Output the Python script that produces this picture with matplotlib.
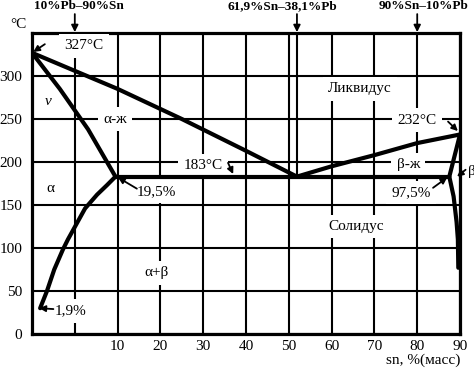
import matplotlib
matplotlib.use("Agg")
import matplotlib.pyplot as plt

plt.rcParams['font.family'] = ['Liberation Serif', 'DejaVu Serif']

# phase lines: (composition % Sn, temperature C)
liq_left_x = [0, 20, 35, 50, 61.9]
liq_left_y = [327, 285, 250, 213, 183]
liq_right_x = [61.9, 70, 80, 90, 100]
liq_right_y = [183, 195, 208, 222, 232]
sol_left_x = [0, 6.5, 13.1, 19.5]
sol_left_y = [327, 285, 238, 183]
solv_left_x = [19.5, 17.5, 15.2, 12.4, 10.4, 8.4, 7.2, 5.2, 3.5, 1.9]
solv_left_y = [183, 173, 162, 146, 128, 110, 98, 75, 50, 30]
sol_right_x = [100, 97.5]
sol_right_y = [232, 183]
solv_right_x = [97.5, 98.5, 99.2, 99.5, 99.6]
solv_right_y = [183, 160, 130, 110, 77]
eut_x = [19.5, 97.5]
eut_y = [183, 183]

xtick_pos = [10, 20, 30, 40, 50, 60, 70, 80, 90, 100]
xtick_lab = ['', '10', '20', '30', '40', '50', '60', '70', '80', '90']
ytick_pos = [0, 50, 100, 150, 200, 250, 300]

fig = plt.figure(figsize=(4.74, 3.70), dpi=100)
ax = fig.add_axes([0.0675, 0.0973, 0.903, 0.8135])
ax.set_xlim(0, 100)
ax.set_ylim(0, 350)
ax.set_xticks(xtick_pos)
ax.set_xticklabels(xtick_lab)
ax.set_yticks(ytick_pos)
ax.tick_params(length=0, labelsize=11)
ax.tick_params(axis='x', pad=4)
ax.tick_params(axis='y', pad=7)
ax.set_axisbelow(True)
ax.grid(True, color='black', lw=1.5)
for s in ax.spines.values():
    s.set_linewidth(2.3)

# eutectic composition line
ax.plot([61.9, 61.9], [183, 350], color='black', lw=1.5, zorder=1)

lw = 3
for xs, ys in [(liq_left_x, liq_left_y), (liq_right_x, liq_right_y),
               (sol_left_x, sol_left_y), (solv_left_x, solv_left_y),
               (sol_right_x, sol_right_y), (solv_right_x, solv_right_y),
               (eut_x, eut_y)]:
    ax.plot(xs, ys, color='black', lw=lw, solid_capstyle='round',
            solid_joinstyle='round', zorder=4)

box = dict(boxstyle='square,pad=0.35', fc='white', ec='none')
labels = [
    ('327°C', 12.1, 335), ('α-ж', 19.4, 250), ('Ликвидус', 76.6, 285),
    ('232°C', 90, 248.5), ('183°C', 40, 196), ('19,5%', 29, 166),
    ('α', 4.2, 169), ('α+β', 29.2, 71), ('1,9%', 9.1, 27),
    ('β-ж', 87.9, 197), ('97,5%', 88.6, 164.5), ('Солидус', 75.7, 125),
]
for t, x, y in labels:
    ax.text(x, y, t, fontsize=11, ha='center', va='center', bbox=box, zorder=3)
ax.text(3.7, 270, 'ν', fontsize=11, ha='center', va='center', style='italic')
ax.text(101.8, 189, 'β', fontsize=11, ha='left', va='center', clip_on=False)

arrows = [
    ((0.3, 328), (3.0, 337)), ((99.5, 236), (97.2, 247)),
    ((47, 186), (45.8, 199)), ((20.1, 182), (24.5, 169)),
    ((1.7, 30), (5.0, 29)), ((97, 182), (93.7, 170)),
    ((99.3, 183), (101.3, 191)),
]
for tip, tail in arrows:
    ax.annotate('', xy=tip, xytext=tail, annotation_clip=False,
                arrowprops=dict(arrowstyle='-|>', lw=1.3, color='black',
                                mutation_scale=9, shrinkA=0, shrinkB=0), zorder=5)

# compositions marked on top
tops = [('10%Pb–90%Sn', 11, 10), ('61,9%Sn–38,1%Pb', 58.4, 61.9), ('90%Sn–10%Pb', 91.4, 90)]
for t, tx, ax_x in tops:
    ax.text(tx, 381.5, t, fontsize=9.5, fontweight='bold', ha='center', va='center', clip_on=False)
    ax.annotate('', xy=(ax_x, 351), xytext=(ax_x, 372), annotation_clip=False,
                arrowprops=dict(arrowstyle='-|>', lw=1.3, color='black',
                                mutation_scale=10, shrinkA=0, shrinkB=0))

fig.text(18 / 474, 1 - 25 / 370, '°C', fontsize=11, ha='center', va='center')
fig.text(460 / 474, 1 - 360 / 370, 'sn, %(масс)', fontsize=11, ha='right', va='center')

fig.savefig('out.png', dpi=100)
